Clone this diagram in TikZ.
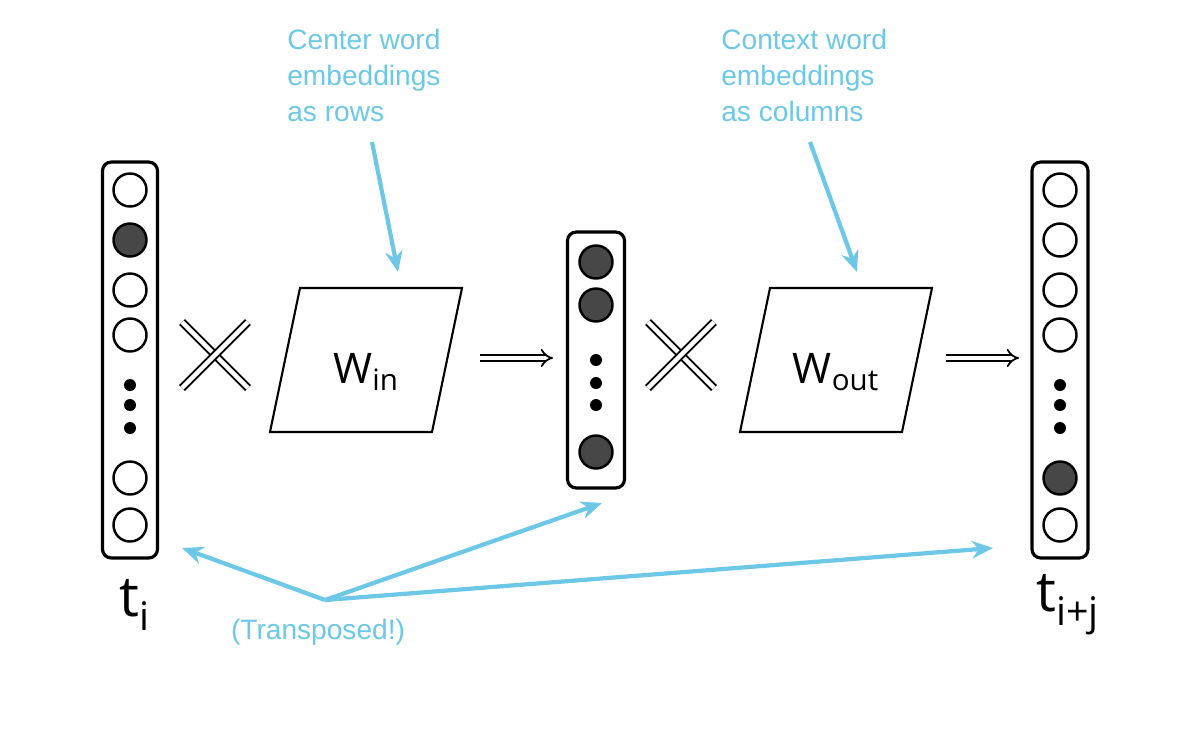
\documentclass[tikz,border=0pt]{standalone}
\usepackage{fontspec}
\setmainfont{Open Sans}
\newfontfamily\lab{Liberation Sans}
\usetikzlibrary{arrows.meta}
\definecolor{sky}{HTML}{6CC8E6}
\begin{document}
\begin{tikzpicture}[x=0.02cm,y=-0.02cm,
 vec/.style={draw,line width=1.8pt,rounded corners=5pt},
 c/.style={draw,line width=1.4pt,circle,minimum size=33*0.02cm,inner sep=0},
 f/.style={c,fill=black!72},
 d/.style={circle,fill=black,minimum size=12*0.02cm,inner sep=0},
 par/.style={draw,line width=1.2pt},
 lbl/.style={text=sky,font=\lab\fontsize{16pt}{20.5pt}\selectfont,align=left,anchor=north west,inner sep=0},
 ba/.style={draw=sky,line width=2.4pt,-{Stealth[length=12pt,width=10pt]}},
 dbl/.style={double,double distance=2.5pt,line width=1pt,-{Implies}}]
\useasboundingbox (0,0) rectangle (1200,728);
% left vector
\node[vec,minimum width=55*0.02cm,minimum height=396*0.02cm] (L) at (130,360) {};
\foreach \y/\s [count=\i] in {190/c,240/f,290/c,335/c,478/c,525/c}
  \node[\s] (l\i) at (130,\y) {};
\foreach \y [count=\i] in {385,405,428} \node[d] (ld\i) at (130,\y) {};
% middle vector
\node[vec,minimum width=57*0.02cm,minimum height=256*0.02cm] (M) at (596,360) {};
\foreach \y [count=\i] in {262,305,452} \node[f] (m\i) at (596,\y) {};
\foreach \y [count=\i] in {360,383,405} \node[d] (md\i) at (596,\y) {};
% right vector
\node[vec,minimum width=56*0.02cm,minimum height=396*0.02cm] (R) at (1060,360) {};
\foreach \y/\s [count=\i] in {190/c,240/c,290/c,335/c,478/f,525/c}
  \node[\s] (r\i) at (1060,\y) {};
\foreach \y [count=\i] in {385,405,428} \node[d] (rd\i) at (1060,\y) {};
% crosses
\foreach \x/\n in {215/xa,681/xb}{
 \coordinate (\n) at (\x,355);
 \draw[line width=1.1pt,double,double distance=2.5pt] ([shift={(-33,-33)}]\n) -- ([shift={(33,33)}]\n);
 \draw[line width=1.1pt,double,double distance=2.5pt] ([shift={(-33,33)}]\n) -- ([shift={(33,-33)}]\n);}
% matrices
\draw[par] (300,288) -- (462,288) -- (432,432) -- (270,432) -- cycle;
\node[font=\fontsize{24pt}{24pt}\selectfont] (win) at (366,372) {W\textsubscript{in}};
\draw[par] (770,288) -- (932,288) -- (902,432) -- (740,432) -- cycle;
\node[font=\fontsize{24pt}{24pt}\selectfont] (wout) at (836,372) {W\textsubscript{out}};
% double arrows
\coordinate (a1) at (480,358); \coordinate (a2) at (553,358);
\coordinate (b1) at (946,358); \coordinate (b2) at (1019,358);
\draw[dbl] (a1) -- (a2);
\draw[dbl] (b1) -- (b2);
% t labels
\node[font=\fontsize{32pt}{32pt}\selectfont] (ti) at (135,605) {t\textsubscript{i}};
\node[font=\fontsize{32pt}{32pt}\selectfont] (tij) at (1068,605) {t\textsubscript{i+j}};
% blue labels
\node[lbl] (cw) at (287,29) {Center word\\embeddings\\as rows};
\node[lbl] (xw) at (721,29) {Context word\\embeddings\\as columns};
\node[text=sky,font=\lab\fontsize{16pt}{20pt}\selectfont] (tr) at (318,632) {(Transposed!)};
\coordinate (s1) at (372,142); \coordinate (e1) at (398,272);
\coordinate (s2) at (810,142); \coordinate (e2) at (857,272);
\coordinate (o) at (325,600);
\coordinate (p1) at (182,548); \coordinate (p2) at (602,503); \coordinate (p3) at (993,548);
\draw[ba] (s1) -- (e1);
\draw[ba] (s2) -- (e2);
\draw[ba] (o) -- (p1);
\draw[ba] (o) -- (p2);
\draw[ba] (o) -- (p3);
\end{tikzpicture}
\end{document}
